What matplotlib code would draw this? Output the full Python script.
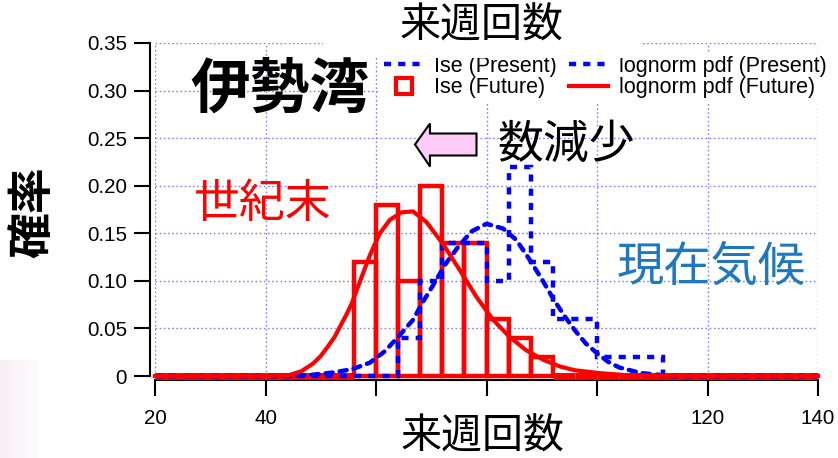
import matplotlib
matplotlib.use('Agg')
import matplotlib.pyplot as plt
import numpy as np
from matplotlib.patches import Polygon, Rectangle
from matplotlib.lines import Line2D
from matplotlib.colors import LinearSegmentedColormap

plt.rcParams['font.family'] = ['Liberation Sans', 'Noto Sans CJK JP', 'DejaVu Sans']

# ---------------- data ----------------
bin_edges = [20, 24, 28, 32, 36, 40, 44, 48, 52, 56, 60, 64, 68, 72, 76, 80, 84, 88,
             92, 96, 100, 104, 108, 112, 116, 120, 124, 128, 132, 136, 140]
present_hist = [0, 0, 0, 0, 0, 0, 0, 0, 0, 0, 0,
                0.04, 0.10, 0.14, 0.14, 0.10, 0.22, 0.12, 0.06, 0.06, 0.02, 0.02, 0.02,
                0, 0, 0, 0, 0, 0, 0]
future_hist = [0, 0, 0, 0, 0, 0, 0, 0, 0,
               0.12, 0.18, 0.10, 0.20, 0.14, 0.14, 0.06, 0.04, 0.02,
               0, 0, 0, 0, 0, 0, 0, 0, 0, 0, 0, 0]

future_pdf_x = [20, 40, 44.3, 46.5, 48.6, 50, 51.3, 52.5, 53.5, 54.6, 55.6, 56.5, 57.4,
                58.9, 60.7, 62.5, 64.6, 66.7, 69.1, 72.1, 75.2, 78.2, 81.2, 84.2, 87.2,
                90.3, 93.3, 96, 100.5, 105, 110, 120, 140]
future_pdf_y = [0, 0, 0.001, 0.005, 0.013, 0.021, 0.031, 0.041, 0.052, 0.064, 0.076, 0.090,
                0.104, 0.127, 0.150, 0.164, 0.172, 0.173, 0.162, 0.139, 0.111, 0.083, 0.059,
                0.041, 0.027, 0.017, 0.010, 0.006, 0.003, 0.001, 0.0005, 0, 0]

present_pdf_x = [20, 44, 48, 52, 55.6, 58.9, 61.6, 64, 66.7, 68.5, 70.4, 72.5, 74.9, 77.3,
                 80, 83, 85.4, 87.5, 90, 92, 94, 96, 98, 100, 102, 104, 106, 108, 110, 113, 140]
present_pdf_y = [0, 0, 0.001, 0.0035, 0.007, 0.014, 0.026, 0.041, 0.059, 0.078, 0.096, 0.117,
                 0.136, 0.152, 0.160, 0.155, 0.143, 0.125, 0.102, 0.082, 0.064, 0.048, 0.034,
                 0.024, 0.015, 0.009, 0.006, 0.003, 0.002, 0, 0]

x_ticks = [20, 40, 60, 80, 100, 120, 140]
x_ticklabels = ['20', '40', '', '', '', '120', '140']
y_ticks = [0, 0.05, 0.10, 0.15, 0.20, 0.25, 0.30, 0.35]
y_ticklabels = ['0', '0.05', '0.10', '0.15', '0.20', '0.25', '0.30', '0.35']

RED = '#ff0000'
BLUE = '#0000ff'

W, H = 838, 458
def fx(x):
    return x / W
def fy(y):
    return 1 - y / H

fig = plt.figure(figsize=(W / 100, H / 100), dpi=100)
fig.patch.set_facecolor('white')

# faint pink slide background at bottom-left
bg = fig.add_axes([0, 0, 37 / W, 98 / H])
grad = np.linspace(0, 1, 50).reshape(1, -1)
cm = LinearSegmentedColormap.from_list('pk', ['#f9eef5', '#fefbfd'])
bg.imshow(grad, aspect='auto', cmap=cm)
bg.axis('off')

ax = fig.add_axes([155 / W, 1 - 376 / H, 663 / W, 333 / H])
ax.set_xlim(20, 140)
ax.set_ylim(0, 0.35)

ax.set_axisbelow(True)
ax.grid(True, color='#8080ff', linestyle=(0, (1.2, 1.8)), linewidth=1.0)

edges = np.array(bin_edges)
fut = np.array(future_hist)
lws = [5 if v == 0 else 3.2 for v in fut]
ax.bar(edges[:-1], fut, width=np.diff(edges), align='edge', fill=False,
       edgecolor=RED, linewidth=lws, zorder=3, clip_on=False, label='Ise (Future)')

ax.stairs(present_hist, edges, color=BLUE, linestyle=(0, (1.6, 1.6)), linewidth=3.2,
          zorder=4, label='Ise (Present)', clip_on=False)
ax.plot(present_pdf_x, present_pdf_y, color=BLUE, linestyle=(0, (1.6, 1.6)), linewidth=3.2,
        zorder=4, dash_capstyle='round', label='lognorm pdf (Present)', clip_on=False)
ax.plot(future_pdf_x, future_pdf_y, color=RED, linewidth=3.0, zorder=5,
        label='lognorm pdf (Future)', clip_on=False)

for s in ['top', 'right']:
    ax.spines[s].set_visible(False)
ax.spines['left'].set_position(('outward', 3.6))
ax.spines['bottom'].set_position(('outward', 2.9))
for s in ['left', 'bottom']:
    ax.spines[s].set_linewidth(1.5)

ax.set_xticks(x_ticks)
ax.set_xticklabels(x_ticklabels)
ax.set_yticks(y_ticks)
ax.set_yticklabels(y_ticklabels)
ax.tick_params(direction='out', length=11.5, width=1.5, labelsize=14.8)
ax.tick_params(axis='x', pad=9)
ax.tick_params(axis='y', pad=5)

handles = [
    Line2D([], [], color=BLUE, linestyle=(0, (1.6, 1.6)), linewidth=3.2),
    Line2D([], [], color=RED, marker='s', markersize=11, markerfacecolor='none',
           markeredgewidth=3, linestyle='none'),
    Line2D([], [], color=BLUE, linestyle=(0, (1.6, 1.6)), linewidth=3.2),
    Line2D([], [], color=RED, linewidth=3.0),
]
labels = ['Ise (Present)', 'Ise (Future)', 'lognorm pdf (Present)', 'lognorm pdf (Future)']
leg = ax.legend(handles, labels, ncol=2, loc='upper left',
                bbox_to_anchor=(fx(380), fy(51.5)), bbox_transform=fig.transFigure,
                fontsize=15.5, frameon=True, facecolor='white', edgecolor='none',
                framealpha=1, fancybox=False, borderpad=0.2, borderaxespad=0,
                handlelength=1.8, handletextpad=0.5, columnspacing=0.6, labelspacing=0.03)
leg.set_zorder(10)

# white box behind the top title (covers top of legend and grid)
fig.add_artist(Rectangle((fx(323), fy(58.5)), (643 - 323) / W, 58.5 / H,
                         transform=fig.transFigure, facecolor='white', edgecolor='none',
                         zorder=2))
fig.text(fx(482), fy(26), '来週回数', fontsize=29.5, ha='center', va='center', zorder=5)
fig.text(fx(483), fy(437), '来週回数', fontsize=29.5, ha='center', va='center', zorder=5)
fig.text(fx(34), fy(212), '確率', fontsize=33, rotation=90, ha='center', va='center',
         fontweight='bold', zorder=5)

fig.text(fx(280), fy(91), '伊勢湾', fontsize=43, fontweight='bold', ha='center',
         va='center', zorder=5)
fig.text(fx(263), fy(205), '世紀末', fontsize=33, color=RED, ha='center', va='center',
         zorder=5)
fig.text(fx(566), fy(146), '数減少', fontsize=33, color='black', ha='center', va='center',
         zorder=5)
fig.text(fx(711), fy(268), '現在気候', fontsize=34, color='#1f77bf', ha='center',
         va='center', zorder=5)

arrow_px = [(415, 144.5), (430, 123.5), (430, 133.5), (476.5, 133.5), (476.5, 155.5),
            (430, 155.5), (430, 166.5)]
fig.add_artist(Polygon([(fx(x), fy(y)) for x, y in arrow_px], closed=True,
                       transform=fig.transFigure, facecolor='#ffccf7',
                       edgecolor='black', linewidth=1.5, zorder=6))

fig.savefig('out.png', dpi=100, facecolor='white')
